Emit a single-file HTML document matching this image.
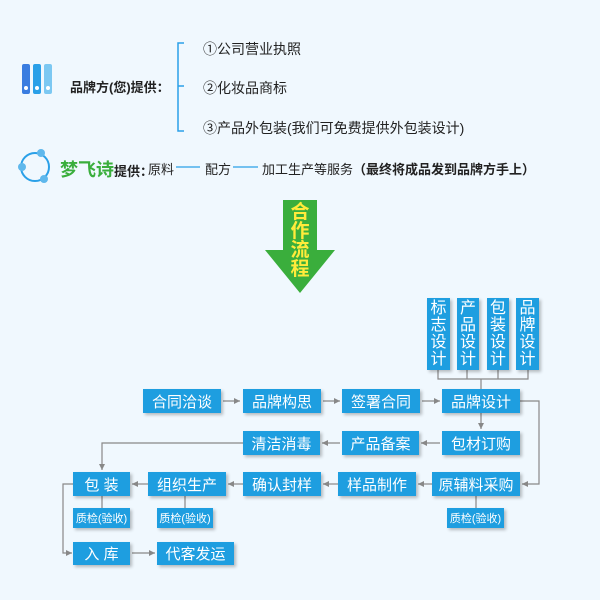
<!DOCTYPE html><html><head><meta charset="utf-8"><style>
body{margin:0;width:600px;height:600px;background:#f0f8fe;position:relative;overflow:hidden;font-family:"Liberation Sans","Noto Sans CJK SC",sans-serif;color:#222}
.a{position:absolute;white-space:nowrap}
.b{position:absolute;background:#1e9ee0;color:#fff;font-size:15px;display:flex;align-items:center;justify-content:center;box-shadow:2px 2px 3px rgba(0,0,0,.25)}
.q{font-size:11px}
.v{flex-direction:column;font-size:16px;line-height:17px;justify-content:flex-start;padding-top:2px;box-sizing:border-box}
</style></head><body>
<svg class="a" style="left:0;top:0" width="600" height="600">
<defs><marker id="m" viewBox="0 0 6 6" refX="6" refY="3" markerWidth="6" markerHeight="6" orient="auto" markerUnits="userSpaceOnUse"><path d="M0 0L6 3L0 6Z" fill="#888"/></marker></defs>
<rect x="22" y="64" width="8" height="30" rx="2" fill="#3a7de0"/><rect x="33" y="64" width="8" height="30" rx="2" fill="#2aa0e8"/><rect x="44" y="64" width="8" height="30" rx="2" fill="#7cc8f2"/>
<circle cx="26" cy="88" r="2" fill="#fff"/><circle cx="37" cy="88" r="2" fill="#fff"/><circle cx="48" cy="88" r="2" fill="#fff"/>
<path d="M184 43H178V131H184M178 86H184" stroke="#2aa0e8" stroke-width="1.5" fill="none"/>
<circle cx="35" cy="167" r="14" stroke="#2aa0e8" stroke-width="2" fill="none"/>
<circle cx="41" cy="153" r="4" fill="#5fb8ec"/><circle cx="22" cy="167" r="4" fill="#5fb8ec"/><circle cx="44" cy="179" r="4" fill="#5fb8ec"/>
<path d="M176 167H200M233 167H258" stroke="#2aa0e8" stroke-width="1.2"/>
<path d="M283 200H317V250H335L300 293L265 250H283Z" fill="#3aae3c"/>
<g stroke="#888" stroke-width="1.2" fill="none">
<path d="M438 370V379H528V370M467 370V379M498 379V370M481 379V390"/>
<g marker-end="url(#m)">
<path d="M223 401H240"/><path d="M323 401H340"/><path d="M422 401H440"/>
<path d="M520 401H539V484H522"/>
<path d="M481 413V429"/>
<path d="M440 443H421"/><path d="M340 443H322"/>
<path d="M243 443H102V470"/>
<path d="M432 484H418"/><path d="M338 484H323"/><path d="M243 484H228"/><path d="M148 484H132"/>
<path d="M73 484H63V553H72"/><path d="M132 553H155"/>
</g>
<path d="M102 496V508M185 496V508M476 496V508"/>
</g>
</svg>
<div class="a" style="left:70px;top:77px;font-size:13px;font-weight:bold">品牌方(您)提供：</div>
<div class="a" style="left:203px;top:39px;font-size:14px">①公司营业执照</div>
<div class="a" style="left:203px;top:78px;font-size:14px">②化妆品商标</div>
<div class="a" style="left:203px;top:118px;font-size:14px">③产品外包装(我们可免费提供外包装设计)</div>
<div class="a" style="left:60px;top:156px;font-size:18px;font-weight:bold;color:#3aae3c">梦飞诗<span style="font-size:13px;color:#222">提供：</span></div>
<div class="a" style="left:148px;top:159px;font-size:13px">原料</div>
<div class="a" style="left:205px;top:159px;font-size:13px">配方</div>
<div class="a" style="left:262px;top:159px;font-size:13px">加工生产等服务<b>（最终将成品发到品牌方手上）</b></div>
<div class="a" style="left:290px;top:203px;width:20px;font-size:19px;line-height:19px;color:#ffeb3b;font-weight:bold;text-align:center;white-space:normal">合作流程</div>
<div class="b v" style="left:427px;top:298px;width:23px;height:72px">标<br>志<br>设<br>计</div>
<div class="b v" style="left:457px;top:298px;width:22px;height:72px">产<br>品<br>设<br>计</div>
<div class="b v" style="left:487px;top:298px;width:22px;height:72px">包<br>装<br>设<br>计</div>
<div class="b v" style="left:516px;top:298px;width:23px;height:72px">品<br>牌<br>设<br>计</div>
<div class="b" style="left:143px;top:389px;width:78px;height:24px">合同洽谈</div>
<div class="b" style="left:243px;top:389px;width:78px;height:24px">品牌构思</div>
<div class="b" style="left:342px;top:389px;width:78px;height:24px">签署合同</div>
<div class="b" style="left:442px;top:389px;width:78px;height:24px">品牌设计</div>
<div class="b" style="left:243px;top:431px;width:77px;height:24px">清洁消毒</div>
<div class="b" style="left:342px;top:431px;width:77px;height:24px">产品备案</div>
<div class="b" style="left:442px;top:431px;width:78px;height:24px">包材订购</div>
<div class="b" style="left:73px;top:472px;width:57px;height:24px">包 装</div>
<div class="b" style="left:148px;top:472px;width:78px;height:24px">组织生产</div>
<div class="b" style="left:243px;top:472px;width:78px;height:24px">确认封样</div>
<div class="b" style="left:338px;top:472px;width:78px;height:24px">样品制作</div>
<div class="b" style="left:432px;top:472px;width:88px;height:24px">原辅料采购</div>
<div class="b q" style="left:73px;top:508px;width:57px;height:20px">质检(验收)</div>
<div class="b q" style="left:157px;top:508px;width:56px;height:20px">质检(验收)</div>
<div class="b q" style="left:447px;top:508px;width:57px;height:20px">质检(验收)</div>
<div class="b" style="left:73px;top:542px;width:57px;height:23px">入 库</div>
<div class="b" style="left:157px;top:542px;width:77px;height:23px">代客发运</div>
</body></html>
